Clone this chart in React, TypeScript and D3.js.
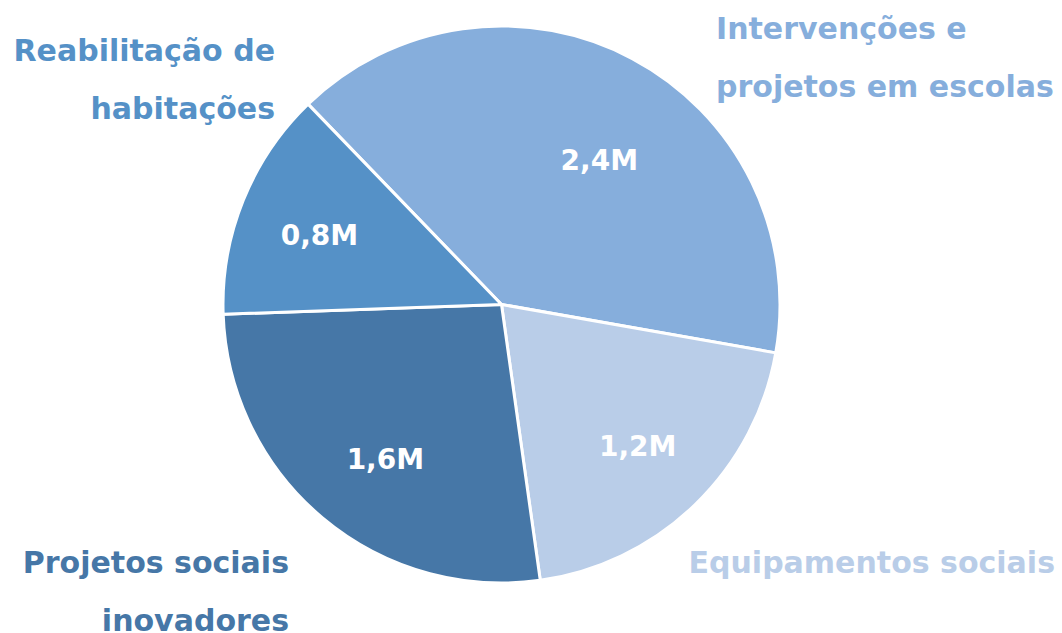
import React from 'react';
import * as d3 from 'd3';

// chart data
const categories = ['Intervenções e projetos em escolas', 'Equipamentos sociais', 'Projetos sociais inovadores', 'Reabilitação de habitações'];
const values = [2.4, 1.2, 1.6, 0.8];
const valueLabels = ['2,4M', '1,2M', '1,6M', '0,8M'];
const colors = ['#86aedc', '#b9cde8', '#4677a7', '#5591c7'];

// outer label layout (text lines, anchor, x, first baseline)
const outerLabels = [
  { lines: ['Intervenções e', 'projetos em escolas'], anchor: 'start', x: 716, y: 39 },
  { lines: ['Equipamentos sociais'], anchor: 'end', x: 1055, y: 573 },
  { lines: ['Projetos sociais', 'inovadores'], anchor: 'end', x: 289, y: 573 },
  { lines: ['Reabilitação de', 'habitações'], anchor: 'end', x: 275, y: 61 },
];

// value label placement inside slices: radius and angle shift (degrees)
const labelPlacement = [
  { r: 175, shift: 6 },
  { r: 196, shift: 0 },
  { r: 193, shift: -3 },
  { r: 195, shift: -1 },
];

const App = () => {
  const width = 1062;
  const height = 633;
  const cx = 501.5;
  const cy = 304.5;
  const radius = 278.5;
  const lineGap = 58;
  const font = "'DejaVu Sans', sans-serif";

  const pie = d3
    .pie<number>()
    .sort(null)
    .startAngle((-44 * Math.PI) / 180)
    .endAngle((316 * Math.PI) / 180)
    .value((d) => d);

  const arcs = pie(values);
  const arc = d3.arc<d3.PieArcDatum<number>>().innerRadius(0).outerRadius(radius);

  const slices = arcs.map((a, i) => (
    <path key={i} d={arc(a) || ''} fill={colors[i]} stroke="#ffffff" strokeWidth={3} strokeLinejoin="round" />
  ));

  const valueTexts = arcs.map((a, i) => {
    const p = labelPlacement[i];
    const mid = (a.startAngle + a.endAngle) / 2 + (p.shift * Math.PI) / 180;
    const x = p.r * Math.sin(mid);
    const y = -p.r * Math.cos(mid);
    return (
      <text
        key={i}
        x={x}
        y={y}
        dy="0.36em"
        textAnchor="middle"
        fill="#ffffff"
        fontFamily={font}
        fontWeight="bold"
        fontSize={28}
      >
        {valueLabels[i]}
      </text>
    );
  });

  const labels = outerLabels.map((l, i) => (
    <text
      key={i}
      textAnchor={l.anchor}
      fill={colors[i]}
      fontFamily={font}
      fontWeight="bold"
      fontSize={30}
    >
      {l.lines.map((t, j) => (
        <tspan key={j} x={l.x} y={l.y + j * lineGap}>
          {t}
        </tspan>
      ))}
    </text>
  ));

  return (
    <svg width={width} height={height} style={{ position: 'absolute', left: 0, top: 0, background: '#ffffff' }}>
      <title>{categories.join(', ')}</title>
      <g transform={'translate(' + cx + ',' + cy + ')'}>
        {slices}
        {valueTexts}
      </g>
      {labels}
    </svg>
  );
};

export default App;
